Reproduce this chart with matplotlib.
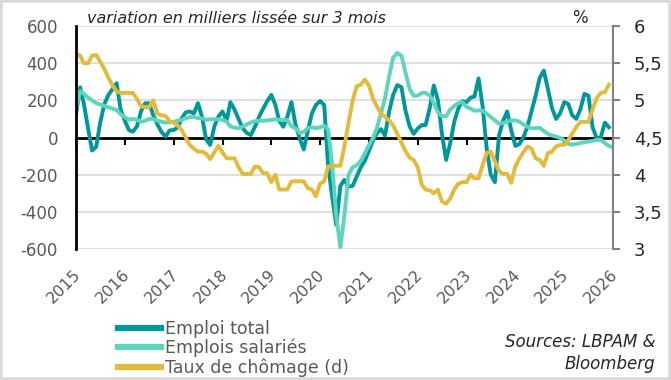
import matplotlib
matplotlib.use("Agg")
import matplotlib.pyplot as plt
import matplotlib.transforms as mtransforms
import pandas as pd
from matplotlib.patches import Rectangle
from matplotlib.ticker import FuncFormatter

plt.rcParams['font.family'] = ['DejaVu Sans']
plt.rcParams['axes.unicode_minus'] = False

# données mensuelles (début janvier 2015)
emploi_total = [125, 270, 180, 50, -70, -50, 80, 180, 230, 260, 292, 150,
                90, 40, 31, 60, 140, 184, 184, 120, 70, 30, 5, 38,
                40, 55, 103, 135, 140, 130, 185, 110, -10, -40, 60, 112,
                140, 90, 190, 150, 100, 50, 25, 13, 58, 110, 155, 195,
                229, 175, 90, 58, 112, 190, 70, -4, -65, 35, 130, 175,
                196, 175, -150, -320, -470, -260, -228, -265, -260, -210, -160, -125,
                -70, -15, 22, 45, 10, 140, 230, 282, 270, 145, 60, 20,
                49, 67, 67, 160, 280, 200, 20, -121, -30, 85, 157, 195,
                190, 215, 220, 318, 170, -60, -200, -240, 10, 90, 140, 40,
                -45, -35, 0, 60, 140, 225, 320, 360, 260, 160, 100, 130,
                190, 180, 120, 100, 150, 235, 225, 55, -4, 0, 80, 55]

emplois_salaries = [157, 250, 235, 215, 200, 185, 178, 170, 163, 155, 148, 125,
                    110, 95, 100, 95, 85, 90, 100, 100, 90, 85, 80, 82,
                    85, 90, 95, 103, 110, 110, 105, 103, 95, 98, 98, 98,
                    95, 85, 60, 52, 50, 58, 70, 80, 88, 90, 90, 92,
                    94, 98, 95, 94, 94, 60, 50, 25, 30, 50, 55, 50,
                    55, 62, 45, -150, -420, -590, -420, -200, -160, -150, -125, -85,
                    -40, 0, 50, 130, 210, 330, 430, 455, 440, 350, 260, 225,
                    225, 240, 240, 225, 185, 135, 115, 115, 150, 170, 185, 190,
                    165, 155, 144, 146, 145, 128, 110, 92, 75, 78, 85, 92,
                    92, 85, 70, 58, 50, 50, 52, 35, 20, 10, 5, -2,
                    -15, -35, -38, -35, -30, -25, -22, -18, -13, -13, -30, -45,
                    -53]

taux_chomage = [5.63, 5.60, 5.50, 5.50, 5.60, 5.61, 5.52, 5.42, 5.30, 5.20, 5.12, 5.10,
                5.10, 5.10, 5.10, 5.02, 4.92, 4.91, 4.91, 5.00, 4.82, 4.80, 4.79, 4.72,
                4.70, 4.66, 4.60, 4.50, 4.40, 4.35, 4.31, 4.31, 4.28, 4.21, 4.30, 4.39,
                4.30, 4.22, 4.22, 4.22, 4.10, 4.01, 4.01, 4.01, 4.11, 4.10, 4.02, 4.02,
                3.90, 4.00, 3.80, 3.80, 3.80, 3.91, 3.91, 3.91, 3.91, 3.82, 3.80, 3.71,
                3.88, 3.91, 4.11, 4.12, 4.12, 4.12, 4.38, 4.70, 5.00, 5.19, 5.21, 5.28,
                5.20, 5.02, 4.92, 4.82, 4.78, 4.73, 4.66, 4.55, 4.43, 4.32, 4.23, 4.20,
                4.10, 3.86, 3.80, 3.79, 3.75, 3.80, 3.64, 3.61, 3.68, 3.80, 3.88, 3.90,
                3.90, 4.00, 3.95, 3.95, 4.13, 4.29, 4.31, 4.18, 4.05, 4.01, 4.01, 3.89,
                4.11, 4.22, 4.30, 4.38, 4.35, 4.22, 4.20, 4.12, 4.29, 4.31, 4.38, 4.40,
                4.40, 4.47, 4.55, 4.64, 4.71, 4.71, 4.71, 4.88, 5.03, 5.10, 5.11, 5.21]

annees = list(range(2015, 2027))
ticks_gauche = [-600, -400, -200, 0, 200, 400, 600]
ticks_droite = [3, 3.5, 4, 4.5, 5, 5.5, 6]

dates_et = pd.date_range('2015-01-01', periods=len(emploi_total), freq='MS')
dates_es = pd.date_range('2015-01-01', periods=len(emplois_salaries), freq='MS')
dates_tc = pd.date_range('2015-01-01', periods=len(taux_chomage), freq='MS')
dates_annees = [pd.Timestamp('%d-01-01' % a) for a in annees]

c_total = '#00979b'
c_sal = '#5dd5bd'
c_cho = '#e3bb3c'
gris = '#595959'

fig = plt.figure(figsize=(6.71, 3.80), dpi=100)
ax = fig.add_axes([0.1133, 0.3447, 0.8003, 0.5869])
ax2 = ax.twinx()

l1, = ax.plot(dates_et, emploi_total, color=c_total, lw=2.8, solid_joinstyle='round')
l2, = ax.plot(dates_es, emplois_salaries, color=c_sal, lw=2.8, solid_joinstyle='round')
l3, = ax2.plot(dates_tc, taux_chomage, color=c_cho, lw=2.8, solid_joinstyle='round')

ax.set_xlim(dates_annees[0], dates_annees[-1])
ax.set_ylim(-600, 600)
ax2.set_ylim(3, 6)

# grille + ligne zéro
ax.set_yticks(ticks_gauche)
ax.grid(axis='y', color='#d9d9d9', lw=1.2)
ax.set_axisbelow(True)
ax.axhline(0, color='black', lw=2, zorder=1.5)
ax.tick_params(axis='y', length=0, pad=13, labelsize=12, labelcolor=gris)
ax.yaxis.set_major_formatter(FuncFormatter(lambda v, p: '%d' % v))

ax2.set_yticks(ticks_droite)
ax2.yaxis.set_major_formatter(FuncFormatter(lambda v, p: ('%g' % v).replace('.', ',')))
ax2.tick_params(axis='y', length=5, width=1.5, color='#808080', pad=10,
                labelsize=13, labelcolor='#262626')

# axe x : étiquettes en bas, graduations sur la ligne zéro
ax.set_xticks(dates_annees)
ax.set_xticklabels([str(a) for a in annees], rotation=45, ha='right',
                   rotation_mode='anchor', fontsize=11.5, color=gris)
ax.tick_params(axis='x', length=0, pad=13)
decal = mtransforms.ScaledTranslation(-2 / 72, 0, fig.dpi_scale_trans)
for lab in ax.get_xticklabels():
    lab.set_transform(lab.get_transform() + decal)

zero = ax.secondary_xaxis(0.5)
zero.set_xticks(dates_annees)
zero.set_xticklabels([])
zero.tick_params(axis='x', length=5, width=1.5, color='black', direction='in')
for s in zero.spines.values():
    s.set_visible(False)

for a in (ax, ax2):
    a.spines['top'].set_visible(False)
    a.spines['bottom'].set_visible(False)
ax.spines['right'].set_visible(False)
ax2.spines['left'].set_linewidth(2)
ax2.spines['left'].set_color('black')
ax2.spines['right'].set_linewidth(1.5)
ax2.spines['right'].set_color('#808080')

fig.text(0.13, 0.952, 'variation en milliers lissée sur 3 mois', fontsize=11.5,
         style='italic', color='#262626', va='center')
fig.text(0.853, 0.952, '%', fontsize=12, color='#262626', va='center')

fig.legend([l1, l2, l3], ['Emploi total', 'Emplois salariés', 'Taux de chômage (d)'],
           loc='upper left', bbox_to_anchor=(0.176, 0.158), frameon=False,
           fontsize=12.5, handlelength=2.5, handletextpad=0.2, labelspacing=0.05,
           borderpad=0, borderaxespad=0, labelcolor=gris)
for h in fig.legends[0].get_lines():
    h.set_linewidth(4.5)

fig.text(0.977, 0.071, 'Sources: LBPAM &\nBloomberg', fontsize=12, style='italic',
         color='#262626', ha='right', va='center', linespacing=1.25)

fig.patches.append(Rectangle((0, 0), 1, 1, transform=fig.transFigure, fill=False,
                             edgecolor='#d9d9d9', lw=4))

fig.savefig('out.png', dpi=100)
